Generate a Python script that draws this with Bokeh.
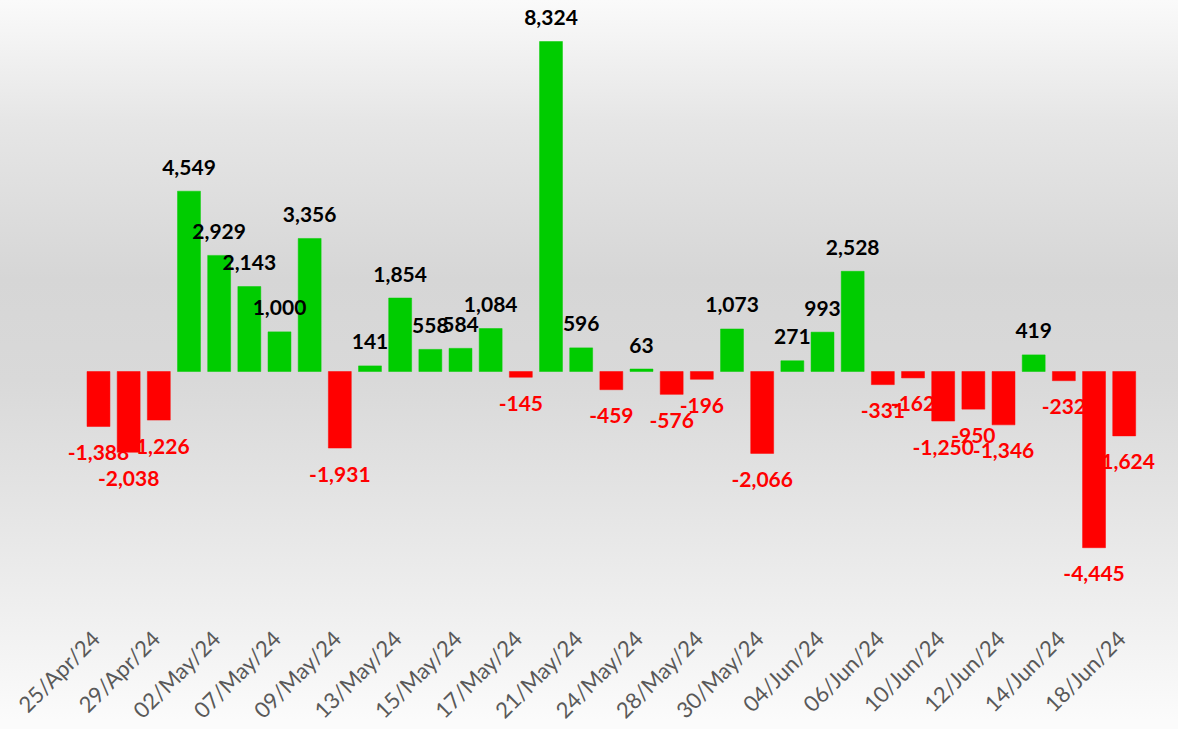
from bokeh.plotting import figure
from bokeh.models import ColumnDataSource, Range1d, FixedTicker, LinearAxis
from bokeh.core.properties import value
from bokeh.embed import file_html
from bokeh.resources import INLINE
import math

dates = ["25/Apr/24", "26/Apr/24", "29/Apr/24", "30/Apr/24", "02/May/24", "03/May/24",
         "07/May/24", "08/May/24", "09/May/24", "10/May/24", "13/May/24", "14/May/24",
         "15/May/24", "16/May/24", "17/May/24", "20/May/24", "21/May/24", "23/May/24",
         "24/May/24", "27/May/24", "28/May/24", "29/May/24", "30/May/24", "03/Jun/24",
         "04/Jun/24", "05/Jun/24", "06/Jun/24", "07/Jun/24", "10/Jun/24", "11/Jun/24",
         "12/Jun/24", "13/Jun/24", "14/Jun/24", "17/Jun/24", "18/Jun/24"]
values = [-1388, -2038, -1226, 4549, 2929, 2143, 1000, 3356, -1931, 141, 1854, 558,
          584, 1084, -145, 8324, 596, -459, 63, -576, -196, 1073, -2066, 271, 993,
          2528, -331, -162, -1250, -950, -1346, 419, -232, -4445, -1624]

POS = "#00CC00"
NEG = "#FF0000"

xs = list(range(1, len(values) + 1))
src = ColumnDataSource(dict(
    x=xs,
    top=values,
    color=[POS if v >= 0 else NEG for v in values],
    label=[f"{v:,}" for v in values],
    tcolor=["#000000" if v >= 0 else NEG for v in values],
    yoff=[-24 if v >= 0 else 26 for v in values],
))

X0, X1 = -2.248, 36.80
p = figure(frame_width=1178, frame_height=632, output_backend="svg",
           toolbar_location=None, x_range=Range1d(X0, X1),
           y_range=Range1d(-6584, 9359),
           min_border_left=0, min_border_right=0, min_border_top=0, min_border_bottom=0,
           x_axis_location=None,
           styles={"background": "linear-gradient(to bottom, #fafafa 0px, #e6e6e6 120px, #d6d6d6 280px, #d9d9d9 380px, #e4e4e4 500px, #f0f0f0 620px, #fbfbfb 720px)"})
p.background_fill_alpha = 0
p.border_fill_alpha = 0
p.outline_line_color = None
p.grid.visible = False
p.yaxis.visible = False

p.vbar(x="x", top="top", bottom=0, width=0.76, source=src,
       fill_color="color", line_color="color", line_width=0.5)

p.text(x="x", y="top", text="label", source=src, y_offset="yoff",
       text_color="tcolor", text_align="center", text_baseline="middle",
       text_font=value("Lato"), text_font_style="bold", text_font_size="21px")

SH = 0.1
p.extra_x_ranges = {"lab": Range1d(X0 + SH, X1 + SH)}
ax = LinearAxis(x_range_name="lab")
ax.ticker = FixedTicker(ticks=xs[::2])
ax.major_label_overrides = {x: d for x, d in zip(xs, dates)}
ax.major_label_orientation = math.pi / 4
ax.major_label_text_font = "Lato"
ax.major_label_text_font_size = "22px"
ax.major_label_text_color = "#595959"
ax.axis_line_color = None
ax.major_tick_line_color = None
ax.minor_tick_line_color = None
ax.major_tick_out = 0
ax.major_tick_in = 0
ax.major_label_standoff = 2
p.add_layout(ax, "below")

open("out.html", "w").write(file_html(p, INLINE))
